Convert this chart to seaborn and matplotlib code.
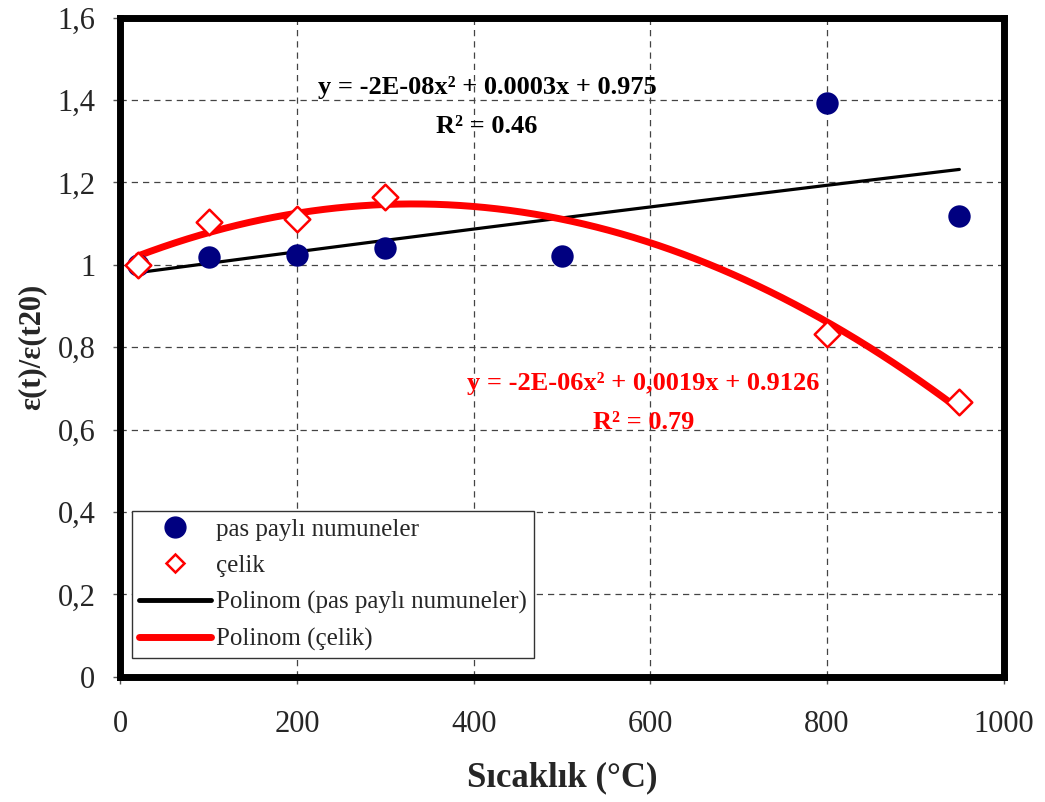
import numpy as np
import pandas as pd
import matplotlib
matplotlib.use("Agg")
import matplotlib.pyplot as plt
import seaborn as sns
from matplotlib.lines import Line2D

# data
temp_pas = [20, 100, 200, 300, 500, 800, 950]
ratio_pas = [1.0, 1.018, 1.023, 1.042, 1.022, 1.392, 1.118]
temp_celik = [20, 100, 200, 300, 800, 950]
ratio_celik = [1.0, 1.105, 1.112, 1.165, 0.833, 0.668]
x_ticks = [0, 200, 400, 600, 800, 1000]
y_ticks = [0, 0.2, 0.4, 0.6, 0.8, 1.0, 1.2, 1.4, 1.6]
y_tick_labels = ["0", "0,2", "0,4", "0,6", "0,8", "1", "1,2", "1,4", "1,6"]
eq_pas = "y = -2E-08x² + 0.0003x + 0.975"
r2_pas = "R² = 0.46"
eq_celik = "y = -2E-06x² + 0,0019x + 0.9126"
r2_celik = "R² = 0.79"

sns.set_theme(style="white")
plt.rcParams["font.family"] = ["Liberation Serif", "DejaVu Serif"]

fig = plt.figure(figsize=(10.45, 8.02), dpi=100)
ax = fig.add_axes([0.1153, 0.156, 0.845, 0.822])

df_pas = pd.DataFrame({"T": temp_pas, "R": ratio_pas})
df_cel = pd.DataFrame({"T": temp_celik, "R": ratio_celik})

# polynomial trend lines from data
cp = np.polyfit(temp_pas, ratio_pas, 2)
cc = np.polyfit(temp_celik, ratio_celik, 2)
xs_p = np.linspace(min(temp_pas), max(temp_pas), 200)
xs_c = np.linspace(min(temp_celik), max(temp_celik), 200)
fit_p = pd.DataFrame({"T": xs_p, "R": np.polyval(cp, xs_p)})
fit_c = pd.DataFrame({"T": xs_c, "R": np.polyval(cc, xs_c)})

sns.lineplot(data=fit_p, x="T", y="R", ax=ax, color="black", lw=2.3, zorder=3)
sns.lineplot(data=fit_c, x="T", y="R", ax=ax, color="#ff0000", lw=5, zorder=3)
sns.scatterplot(data=df_pas, x="T", y="R", ax=ax, color="#000080", s=260,
                marker="o", edgecolor="#000080", linewidth=0, zorder=4)
sns.scatterplot(data=df_cel, x="T", y="R", ax=ax, s=170, marker="D",
                facecolor="white", edgecolor="#ff0000", linewidth=1.8, zorder=5)

ax.set_xlim(0, 1000)
ax.set_ylim(0, 1.6)
ax.set_xticks(x_ticks)
ax.set_yticks(y_ticks)
ax.set_yticklabels(y_tick_labels)
ax.tick_params(axis="both", labelsize=22, direction="out", length=5, width=1,
               color="#555555", bottom=True, left=True)
ax.tick_params(axis="x", pad=19)
ax.tick_params(axis="y", pad=13)
ax.grid(True, linestyle=(0, (5, 4)), color="#444444", lw=0.9)
for s in ax.spines.values():
    s.set_linewidth(5)
    s.set_color("black")

ax.set_xlabel("Sıcaklık (°C)", fontsize=25, fontweight="bold", labelpad=16)
ax.set_ylabel("ε(t)/ε(t20)", fontsize=22, fontweight="bold", labelpad=8)

ax.text(415, 1.43, eq_pas, ha="center", va="center", fontsize=19, fontweight="bold", color="black")
ax.text(415, 1.335, r2_pas, ha="center", va="center", fontsize=19, fontweight="bold", color="black")
ax.text(592, 0.711, eq_celik, ha="center", va="center", fontsize=19, fontweight="bold", color="#ff0000")
ax.text(592, 0.617, r2_celik, ha="center", va="center", fontsize=19, fontweight="bold", color="#ff0000")

handles = [
    Line2D([], [], marker="o", color="#000080", linestyle="none", markersize=15),
    Line2D([], [], marker="D", markerfacecolor="white", markeredgecolor="#ff0000",
           markeredgewidth=1.8, linestyle="none", markersize=9),
    Line2D([], [], color="black", lw=3.5),
    Line2D([], [], color="#ff0000", lw=5),
]
labels = ["pas paylı numuneler", "çelik", "Polinom (pas paylı numuneler)", "Polinom (çelik)"]
leg = ax.legend(handles, labels, loc="lower left", bbox_to_anchor=(0.013, 0.028),
                fontsize=18, frameon=True, fancybox=False, handlelength=2.85,
                handletextpad=0.2, labelspacing=0.55, borderpad=0.3, borderaxespad=0)
leg.get_frame().set_edgecolor("#333333")
leg.get_frame().set_linewidth(1)
leg.get_frame().set_alpha(1)

fig.savefig("out.png", dpi=100)
